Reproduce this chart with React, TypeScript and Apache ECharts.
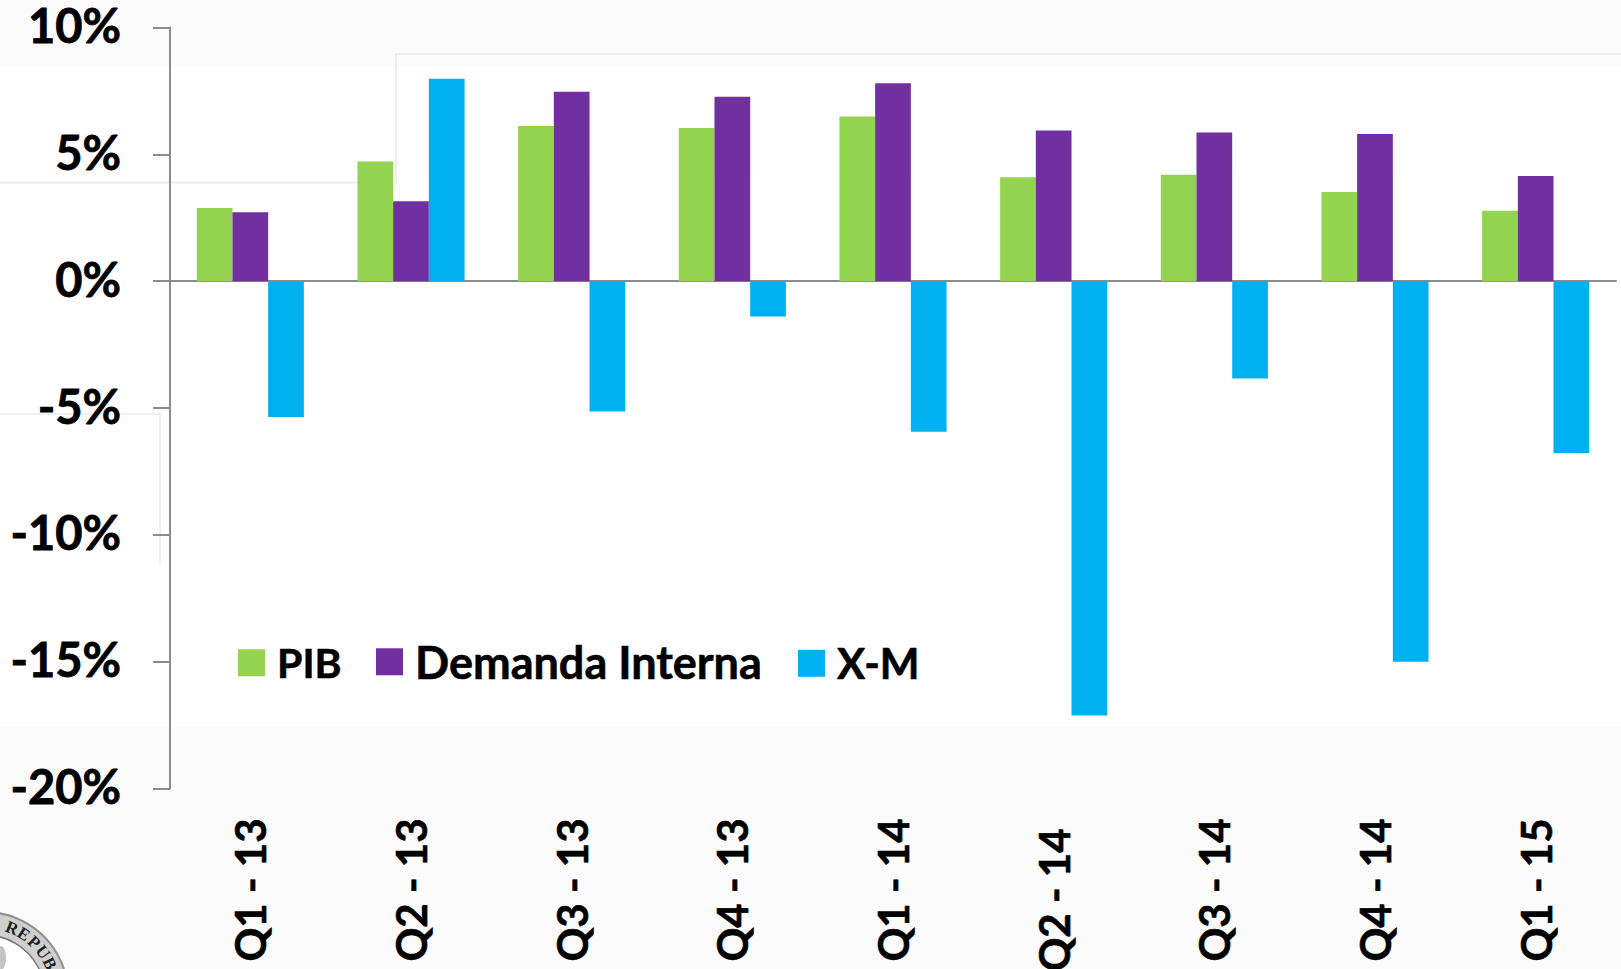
import React, { useEffect, useRef } from "react";
import * as echarts from "echarts";

const categories = ["Q1 - 13", "Q2 - 13", "Q3 - 13", "Q4 - 13", "Q1 - 14", "Q2 - 14", "Q3 - 14", "Q4 - 14", "Q1 - 15"];
const pib = [2.88, 4.72, 6.12, 6.04, 6.49, 4.1, 4.2, 3.52, 2.78];
const demanda = [2.72, 3.15, 7.47, 7.27, 7.8, 5.94, 5.86, 5.8, 4.15];
const xm = [-5.35, 7.98, -5.14, -1.39, -5.94, -17.12, -3.84, -15.0, -6.77];
const sealLetters = ["R", "E", "P", "U", "B"];

const FONT = "Lato";
const AXIS = "#8c8c8c";
const GREEN = "#93d34f";
const PURPLE = "#7030a0";
const BLUE = "#00b0f0";

function App() {
  const ref = useRef<HTMLDivElement>(null);
  useEffect(() => {
    const chart = echarts.init(ref.current!, null, { renderer: "svg" });
    const cx = -15, cy = 995;
    const sealText = sealLetters.map((ch, i) => {
      const a = ((68 - i * 10.5) * Math.PI) / 180;
      const r = 72;
      return {
        type: "text", z: -1,
        x: cx + r * Math.cos(a), y: cy - r * Math.sin(a),
        rotation: a - Math.PI / 2,
        style: { text: ch, font: "bold 17px 'Liberation Serif'", fill: "#222", align: "center", verticalAlign: "middle" },
      };
    });
    const legendText = (fontSize: number) => ({
      fontFamily: FONT, fontWeight: "bold", fontSize, color: "#000",
      textBorderColor: "#000", textBorderWidth: 0.6, padding: [0, 0, 0, 7],
    });
    const legendCommon = { top: 642, itemWidth: 27, itemHeight: 27, itemGap: 0, padding: 0, icon: "rect" };
    chart.setOption({
      animation: false,
      backgroundColor: "#ffffff",
      graphic: [
        { type: "rect", z: -3, shape: { x: 0, y: 0, width: 1621, height: 65 }, style: { fill: "#fbfbfb" } },
        { type: "rect", z: -3, shape: { x: 0, y: 65, width: 1621, height: 110 }, style: { fill: "#fefefe" } },
        { type: "rect", z: -3, shape: { x: 0, y: 727, width: 1621, height: 242 }, style: { fill: "#fbfbfb" } },
        { type: "polyline", z: -2, shape: { points: [[0, 182.5], [396, 182.5], [396, 54], [1621, 54]] }, style: { stroke: "#eeeeee", lineWidth: 2, fill: "none" } },
        { type: "polyline", z: -2, shape: { points: [[0, 414], [160, 414], [160, 565]] }, style: { stroke: "#f1f1f1", lineWidth: 2, fill: "none" } },
        { type: "circle", z: -2, shape: { cx, cy, r: 84 }, style: { fill: "#8f8f8f" } },
        { type: "circle", z: -2, shape: { cx, cy, r: 82 }, style: { fill: "#cfcfcf" } },
        { type: "circle", z: -2, shape: { cx, cy, r: 60 }, style: { fill: "#ffffff", stroke: "#777777", lineWidth: 1.5 } },
        { type: "ellipse", z: -1, shape: { cx: 1, cy: 958, rx: 5, ry: 12 }, style: { fill: "#c4c4c4" } },
        ...sealText,
      ],
      legend: [
        { ...legendCommon, left: 238, data: ["PIB"], textStyle: legendText(41) },
        { ...legendCommon, top: 639, left: 376, data: ["Demanda Interna"], textStyle: legendText(45) },
        { ...legendCommon, left: 798, data: ["X-M"], textStyle: legendText(42) },
      ],
      grid: { left: 170, right: 5, top: 27.5, bottom: 180.5, containLabel: false, outerBoundsMode: "none" },
      xAxis: [
        {
          type: "category", data: categories, position: "bottom",
          axisLine: { onZero: true, lineStyle: { color: AXIS, width: 2 } },
          axisTick: { length: 15, lineStyle: { color: AXIS, width: 2 } },
          axisLabel: { show: false },
          splitLine: { show: false },
        },
        {
          type: "category", position: "bottom",
          data: categories.map((c) => (c === "Q2 - 14" ? { value: c, textStyle: { padding: [0, 10, 0, 0] } } : c)),
          axisLine: { show: false, onZero: false },
          axisTick: { show: false },
          splitLine: { show: false },
          axisLabel: {
            interval: 0, rotate: 90, margin: 30, align: "right", verticalAlign: "middle",
            fontFamily: FONT, fontWeight: "bold", fontSize: 42, color: "#000", hideOverlap: false,
            textBorderColor: "#000", textBorderWidth: 0.6,
          },
        },
      ],
      yAxis: {
        type: "value", min: -20, max: 10, interval: 5,
        axisLine: { show: true, lineStyle: { color: AXIS, width: 2 } },
        axisTick: { show: true, length: 17, lineStyle: { color: AXIS, width: 2 } },
        splitLine: { show: false },
        axisLabel: {
          margin: 49,
          formatter: (v: number) => `{l|${v}%}`,
          rich: {
            l: {
              padding: [0, 0, 5, 0],
              fontFamily: FONT, fontWeight: "bold", fontSize: 47, color: "#000",
              textBorderColor: "#000", textBorderWidth: 0.8,
            },
          },
        },
      },
      series: [
        { name: "PIB", type: "bar", data: pib, barWidth: 35.7, barGap: 0, itemStyle: { color: GREEN }, z: 1 },
        { name: "Demanda Interna", type: "bar", data: demanda, barWidth: 35.7, barGap: 0, itemStyle: { color: PURPLE }, z: 1 },
        { name: "X-M", type: "bar", data: xm, barWidth: 35.7, barGap: 0, itemStyle: { color: BLUE }, z: 1 },
      ],
    });
    return () => chart.dispose();
  }, []);
  return <div ref={ref} style={{ position: "fixed", left: 0, top: 0, width: 1621, height: 969 }} />;
}

export default App;
